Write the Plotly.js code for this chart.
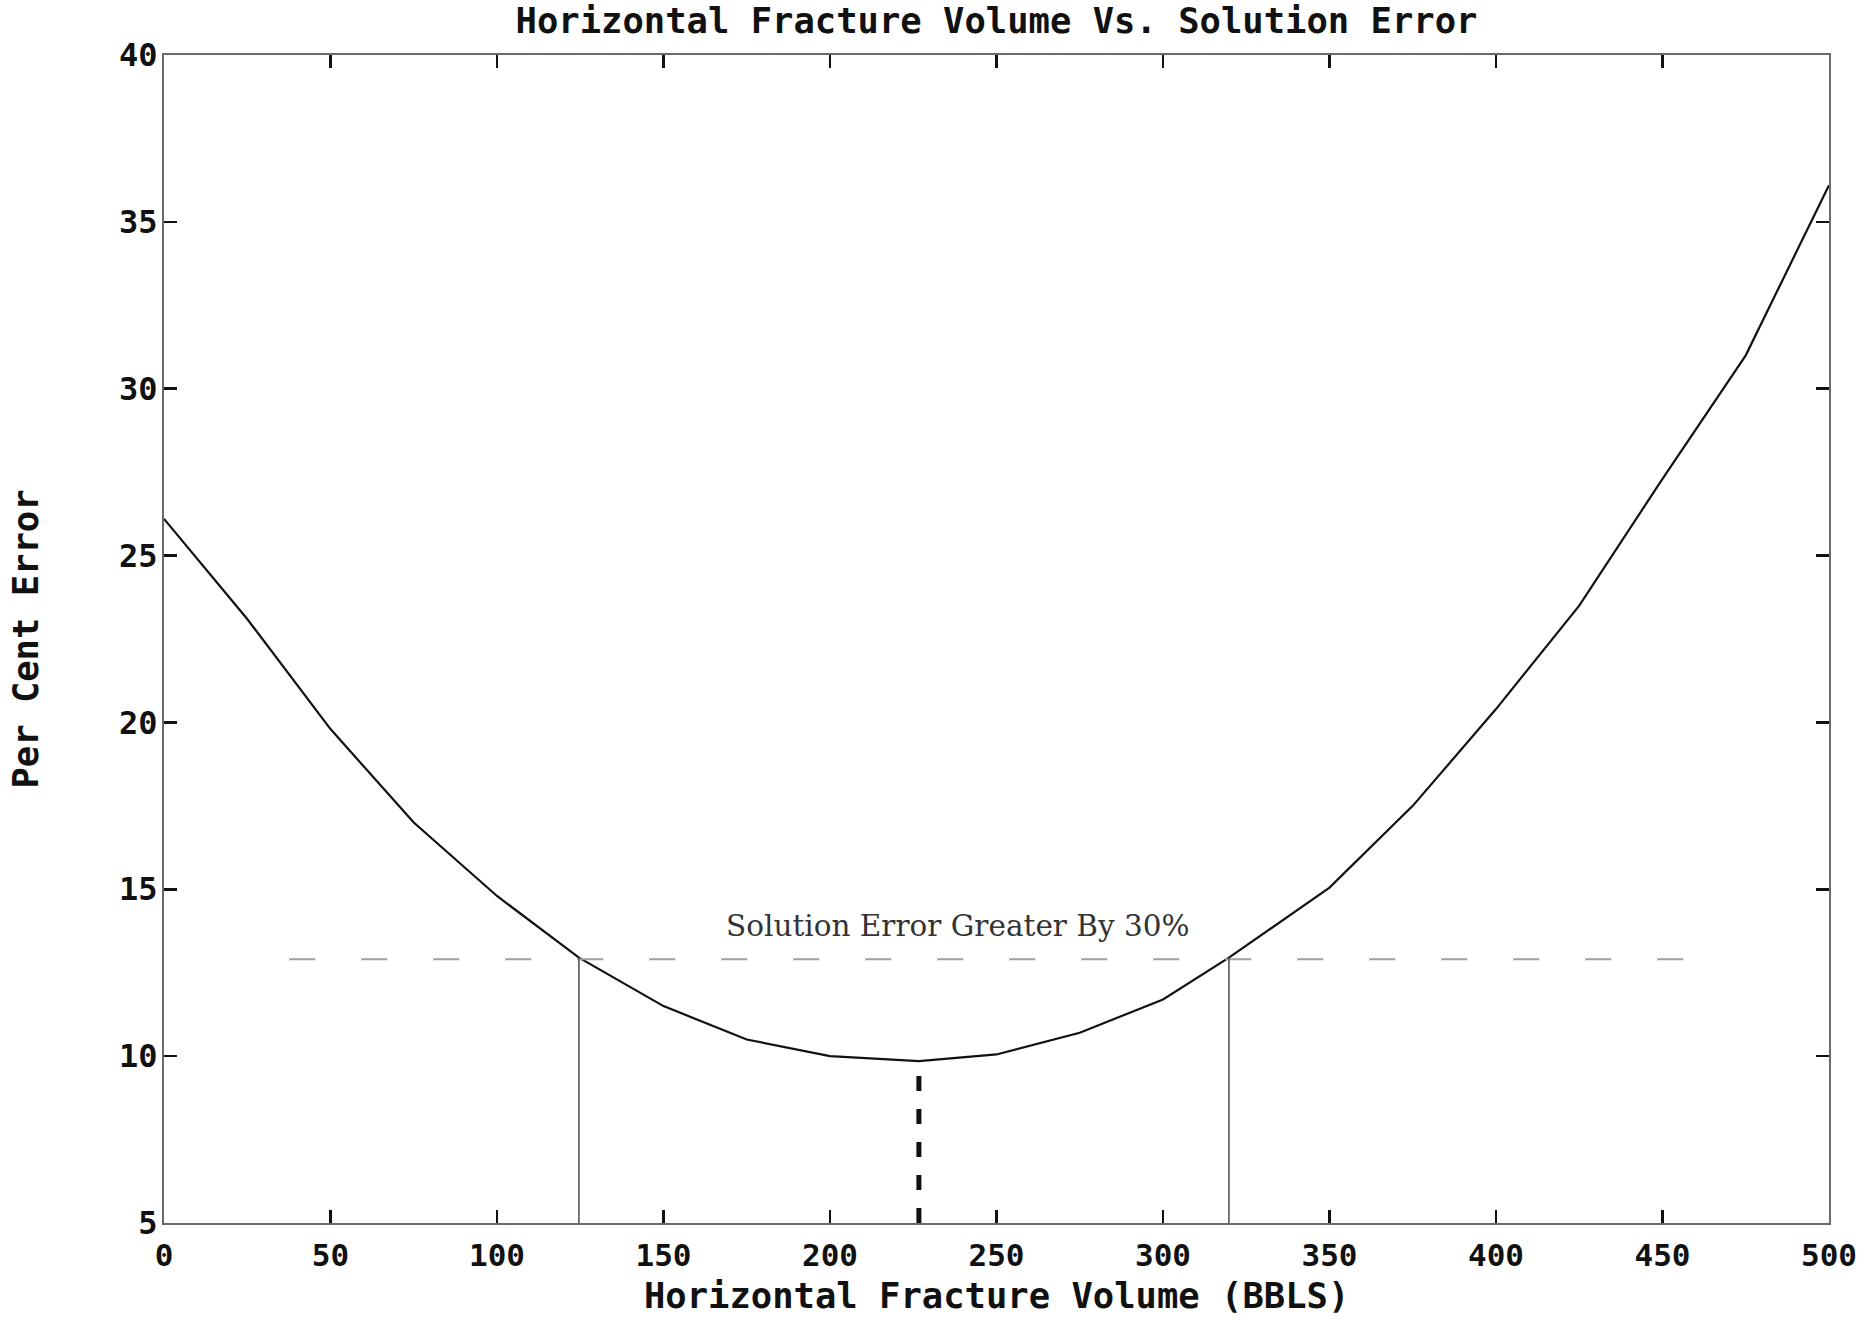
<!DOCTYPE html>
<html>
<head>
<meta charset="utf-8">
<script src="https://cdn.plot.ly/plotly-3.0.1.min.js"></script>
<style>
  html, body { margin: 0; padding: 0; background: #ffffff; }
  #chart { width: 1868px; height: 1340px; }
</style>
</head>
<body>
<div id="chart"></div>
<script>
// Fracture volume (BBLS) against percent solution error
const fractureVolume = [0, 12.5, 25, 50, 75, 100, 124.6, 150, 175, 200, 226.7, 250, 275, 300, 319.8, 350, 375, 400, 425, 450, 475, 500];
const percentError   = [26.1, 24.6, 23.1, 19.8, 17.0, 14.8, 12.95, 11.5, 10.5, 10.0, 9.85, 10.05, 10.7, 11.7, 12.95, 15.05, 17.5, 20.4, 23.5, 27.3, 31.0, 36.1];

// Error band 30% above the optimum
const thresholdError = 12.9;
const thresholdSpan = [37.6, 469];
const boundVolumes = [124.6, 319.8];
const boundErrors = [12.95, 12.95];
const optimumVolume = 226.7;
const optimumError = 9.85;
const axisFloor = 5;

const bandLabel = 'Solution Error Greater By 30%';
const bandLabelX = 238.5;
const bandLabelY = 13.9;

const xTitle = 'Horizontal Fracture Volume (BBLS)';
const yTitle = 'Per Cent Error';
const chartTitle = 'Horizontal Fracture Volume Vs. Solution Error';

const xTicks = [0, 50, 100, 150, 200, 250, 300, 350, 400, 450, 500];
const yTicks = [5, 10, 15, 20, 25, 30, 35, 40];

const mono = 'DejaVu Sans Mono, monospace';

const traces = [
  {
    x: fractureVolume, y: percentError,
    type: 'scatter', mode: 'lines',
    line: { color: '#111111', width: 2.2 },
    hoverinfo: 'skip'
  },
  {
    x: thresholdSpan, y: [thresholdError, thresholdError],
    type: 'scatter', mode: 'lines',
    line: { color: '#a0a0a0', width: 2, dash: '26px,46px' },
    hoverinfo: 'skip'
  },
  {
    x: [boundVolumes[0], boundVolumes[0]], y: [axisFloor, boundErrors[0]],
    type: 'scatter', mode: 'lines',
    line: { color: '#555555', width: 1.6 },
    hoverinfo: 'skip'
  },
  {
    x: [boundVolumes[1], boundVolumes[1]], y: [axisFloor, boundErrors[1]],
    type: 'scatter', mode: 'lines',
    line: { color: '#555555', width: 1.6 },
    hoverinfo: 'skip'
  },
  {
    x: [optimumVolume, optimumVolume], y: [axisFloor, optimumError],
    type: 'scatter', mode: 'lines',
    line: { color: '#111111', width: 5, dash: '15px,18px' },
    hoverinfo: 'skip'
  }
];

const layout = {
  width: 1868, height: 1340,
  paper_bgcolor: '#ffffff', plot_bgcolor: '#ffffff',
  showlegend: false,
  margin: { l: 164, r: 39, t: 55, b: 117 },
  font: { family: mono, color: '#111111' },
  title: {
    text: chartTitle,
    font: { family: mono, size: 35.5, weight: 'bold', color: '#111111' },
    xref: 'paper', x: 0.5, xanchor: 'center',
    yref: 'container', y: 1 - 21 / 1340, yanchor: 'middle'
  },
  xaxis: {
    range: [0, 500],
    tickmode: 'array', tickvals: xTicks, ticktext: xTicks.map(String),
    ticks: 'inside', ticklen: 13, tickwidth: 2.5, tickcolor: '#111111',
    showline: true, linecolor: '#6a6a6a', linewidth: 2, mirror: 'ticks',
    showgrid: false, zeroline: false,
    tickfont: { family: mono, size: 31, weight: 'bold', color: '#111111' },
    ticklabelstandoff: 4
  },
  yaxis: {
    range: [5, 40],
    tickmode: 'array', tickvals: yTicks, ticktext: yTicks.map(String),
    ticks: 'inside', ticklen: 13, tickwidth: 2.5, tickcolor: '#111111',
    showline: true, linecolor: '#6a6a6a', linewidth: 2, mirror: 'ticks',
    showgrid: false, zeroline: false,
    tickfont: { family: mono, size: 32, weight: 'bold', color: '#111111' },
    ticklabelstandoff: -2,
    title: {
      text: yTitle,
      font: { family: mono, size: 35.5, weight: 'bold', color: '#111111' },
      standoff: 70
    }
  },
  annotations: [
    {
      x: bandLabelX, y: bandLabelY, xref: 'x', yref: 'y',
      text: bandLabel, showarrow: false,
      xanchor: 'center', yanchor: 'middle',
      font: { family: 'DejaVu Serif, serif', size: 29.5, weight: 'normal', color: '#333333' }
    },
    {
      // x-axis title, set just under the tick labels
      x: 0.5, y: -50 / 1168, xref: 'paper', yref: 'paper',
      text: xTitle, showarrow: false,
      xanchor: 'center', yanchor: 'top',
      font: { family: mono, size: 35.5, weight: 'bold', color: '#111111' }
    }
  ]
};

Plotly.newPlot('chart', traces, layout, { staticPlot: true, displayModeBar: false });
</script>
</body>
</html>
